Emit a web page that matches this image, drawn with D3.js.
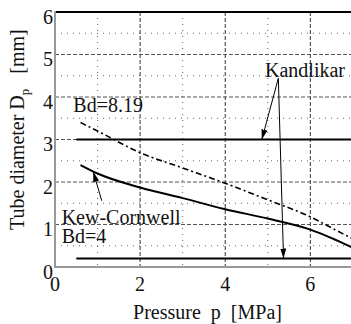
<!DOCTYPE html>
<html>
<head>
<meta charset="utf-8">
<script src="https://cdn.jsdelivr.net/npm/d3@7"></script>
<style>
  html, body { margin: 0; padding: 0; background: #fff; }
  svg { display: block; }
</style>
</head>
<body>
<svg id="chart" width="351" height="324"></svg>
<script>
// Pressure grid (MPa) shared by both correlation curves
const pressure = [0.6, 1, 2, 3, 4, 5, 6, 6.5, 7];
// Kew-Cornwell, Bd = 4 (mm)
const kewCornwell = [2.40, 2.20, 1.87, 1.62, 1.36, 1.14, 0.88, 0.68, 0.45];
// Bond number criterion Bd = 8.19 (mm)
const bd819 = [3.40, 3.20, 2.69, 2.33, 1.97, 1.58, 1.18, 0.92, 0.66];
// Kandlikar limits (mm), drawn over the pressure span
const kandlikarLevels = [3, 0.2];
const kandlikarSpan = [0.5, 7];

const xTicks = [0, 2, 4, 6];
const yTicks = [0, 1, 2, 3, 4, 5, 6];
const xMinor = [1, 3, 5];
const yMinor = [0.5, 1.5, 2.5, 3.5, 4.5, 5.5];

const FONT = "Liberation Serif";
const svg = d3.select("#chart");
const x = d3.scaleLinear().domain([0, 7]).range([55, 352.9]);
const y = d3.scaleLinear().domain([0, 6]).range([267, 12]);
const plotL = x(0), plotR = x(7), plotT = y(6), plotB = y(0);

// grid: dotted minor, dashed major
const grid = svg.append("g");
grid.selectAll(".vminor").data(xMinor).join("line")
  .attr("x1", d => x(d)).attr("x2", d => x(d)).attr("y1", plotT).attr("y2", plotB)
  .attr("stroke", "#666").attr("stroke-width", 1).attr("stroke-dasharray", "1,5");
grid.selectAll(".hminor").data(yMinor).join("line")
  .attr("y1", d => y(d)).attr("y2", d => y(d)).attr("x1", plotL).attr("x2", plotR)
  .attr("stroke", "#666").attr("stroke-width", 1).attr("stroke-dasharray", "1,5");
grid.selectAll(".vmajor").data(xTicks.filter(d => d > 0)).join("line")
  .attr("x1", d => x(d)).attr("x2", d => x(d)).attr("y1", plotT).attr("y2", plotB)
  .attr("stroke", "#333").attr("stroke-width", 1).attr("stroke-dasharray", "4,2");
grid.selectAll(".hmajor").data(yTicks.filter(d => d > 0 && d < 6)).join("line")
  .attr("y1", d => y(d)).attr("y2", d => y(d)).attr("x1", plotL).attr("x2", plotR)
  .attr("stroke", "#555").attr("stroke-width", 1).attr("stroke-dasharray", "4,2");

// frame
svg.append("line").attr("x1", plotL).attr("x2", plotR).attr("y1", plotT).attr("y2", plotT)
  .attr("stroke", "#000").attr("stroke-width", 2);
svg.append("line").attr("x1", plotL).attr("x2", plotL).attr("y1", plotT - 1).attr("y2", plotB + 1)
  .attr("stroke", "#999").attr("stroke-width", 2);
svg.append("line").attr("x1", plotL).attr("x2", plotR).attr("y1", plotB).attr("y2", plotB)
  .attr("stroke", "#999").attr("stroke-width", 2);

// tick labels
svg.selectAll(".ylab").data(yTicks).join("text")
  .attr("font-family", FONT).attr("fill", "#111")
  .attr("x", 53).attr("y", d => y(d) + 11.5)
  .attr("text-anchor", "end").attr("font-size", 20).text(d => d);
svg.selectAll(".xlab").data(xTicks).join("text")
  .attr("font-family", FONT).attr("fill", "#111")
  .attr("x", d => x(d)).attr("y", 291)
  .attr("text-anchor", "middle").attr("font-size", 20).text(d => d);

// axis titles
svg.append("text").attr("x", 207.5).attr("y", 319).attr("text-anchor", "middle")
  .attr("font-family", FONT).attr("fill", "#111")
  .attr("font-size", 20).style("white-space", "pre").text("Pressure  p  [MPa]");
const yt = svg.append("text").attr("transform", "translate(24,230) rotate(-90)")
  .attr("font-family", FONT).attr("fill", "#111")
  .attr("font-size", 20).style("white-space", "pre");
yt.append("tspan").text("Tube diameter D");
yt.append("tspan").attr("font-size", 13).attr("dy", 5).text("p");
yt.append("tspan").attr("dy", -5).text("   [mm]");

// Kandlikar horizontal limits
svg.selectAll(".kand").data(kandlikarLevels).join("line")
  .attr("x1", x(kandlikarSpan[0])).attr("x2", x(kandlikarSpan[1]))
  .attr("y1", d => y(d)).attr("y2", d => y(d))
  .attr("stroke", "#000").attr("stroke-width", 2.2);

// curves
const line = d3.line().x((d, i) => x(pressure[i])).y(d => y(d)).curve(d3.curveMonotoneX);
svg.append("path").attr("d", line(bd819)).attr("fill", "none")
  .attr("stroke", "#000").attr("stroke-width", 1.6).attr("stroke-dasharray", "6,3,2,3");
svg.append("path").attr("d", line(kewCornwell)).attr("fill", "none")
  .attr("stroke", "#000").attr("stroke-width", 2);

// annotation labels (data coordinates)
const labels = [
  { text: "Kandlikar", px: 4.935, py: 4.47 },
  { text: "Bd=8.19", px: 0.43, py: 3.64 },
  { text: "Kew-Cornwell", px: 0.157, py: 1.01 },
  { text: "Bd=4", px: 0.157, py: 0.57 }
];
svg.selectAll(".ann").data(labels).join("text")
  .attr("font-family", FONT).attr("fill", "#111")
  .attr("x", d => x(d.px)).attr("y", d => y(d.py))
  .attr("font-size", 20).text(d => d.text);

// annotation arrows: from label to the curve they name
const arrows = [
  { from: [5.248, 4.44], to: [4.86, 3.0] },
  { from: [5.248, 4.44], to: [5.37, 0.2] },
  { from: [1.098, 1.56], to: [0.90, 2.24] }
];
svg.append("defs").append("marker")
  .attr("id", "head").attr("viewBox", "0 0 10 6").attr("refX", 10).attr("refY", 3)
  .attr("markerWidth", 10).attr("markerHeight", 6).attr("markerUnits", "userSpaceOnUse")
  .attr("orient", "auto")
  .append("path").attr("d", "M0,0 L10,3 L0,6 Z").attr("fill", "#000");
svg.selectAll(".arrow").data(arrows).join("line")
  .attr("x1", d => x(d.from[0])).attr("y1", d => y(d.from[1]))
  .attr("x2", d => x(d.to[0])).attr("y2", d => y(d.to[1]))
  .attr("stroke", "#000").attr("stroke-width", 1).attr("marker-end", "url(#head)");
</script>
</body>
</html>
